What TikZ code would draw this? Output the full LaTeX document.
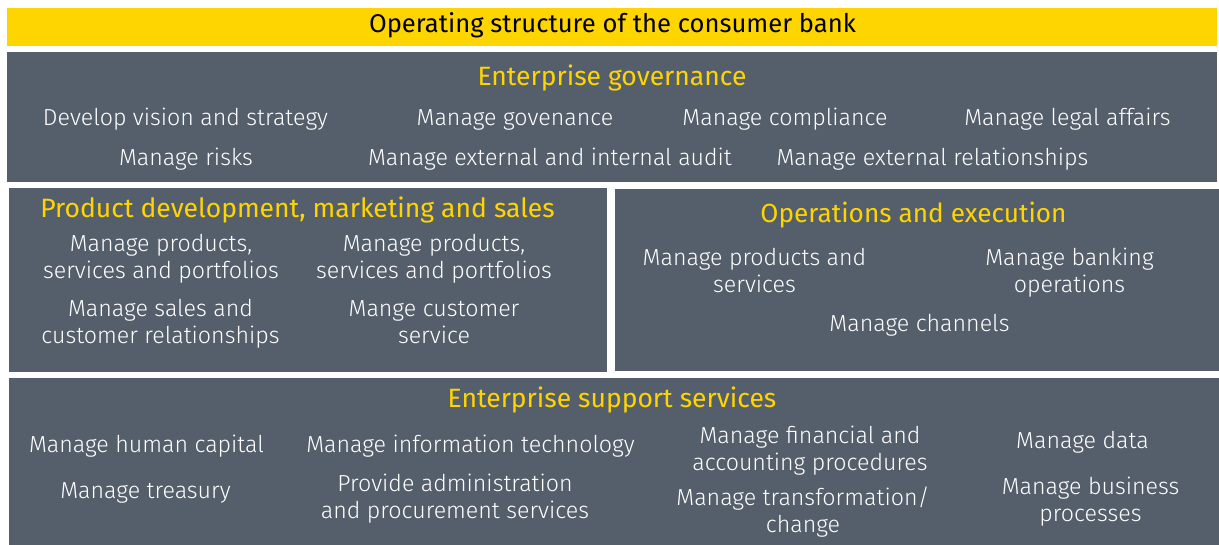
\documentclass[tikz,border=0pt]{standalone}
\usepackage{fontspec}
\setmainfont{Fira Sans Light}
\newfontfamily\regfont{Fira Sans}
\definecolor{eygray}{HTML}{545F6B}
\definecolor{eyyellow}{HTML}{FFD500}
\tikzset{
  panel/.style={fill=eygray, draw=none},
  bar/.style={fill=eyyellow, draw=none},
  hdr/.style={text=eyyellow, anchor=base, inner sep=0pt, font=\regfont\fontsize{26.5}{30}\selectfont},
  bighdr/.style={text=eyyellow, anchor=base, inner sep=0pt, font=\regfont\fontsize{26.2}{30}\selectfont},
  item/.style={text=white, anchor=base, align=center, inner sep=0pt, font=\fontsize{23.2}{27}\selectfont},
  ttl/.style={text=black, anchor=base, inner sep=0pt, font=\regfont\fontsize{25.6}{30}\selectfont}
}
\begin{document}
\begin{tikzpicture}[x=1pt,y=-1pt]
\useasboundingbox (0,0) rectangle (1219,545);
% panels
\fill[bar] (7,8) rectangle (1217,46);
\fill[panel] (7,52) rectangle (1217,182);
\fill[panel] (9,188) rectangle (607,372);
\fill[panel] (615,189) rectangle (1219,371);
\fill[panel] (9,378) rectangle (1219,545);
% title
\node[ttl] (title) at (612.5,33) {Operating structure of the consumer bank};
% governance
\node[hdr] (govh) at (612,86) {Enterprise governance};
\node[item] (g1) at (185.5,126) {Develop vision and strategy};
\node[item] (g2) at (515,126) {Manage govenance};
\node[item] (g3) at (785,126) {Manage compliance};
\node[item] (g4) at (1067.5,126) {Manage legal affairs};
\node[item] (g5) at (186,166) {Manage risks};
\node[item] (g6) at (550,166) {Manage external and internal audit};
\node[item] (g7) at (932.5,166) {Manage external relationships};
% product development
\node[hdr] (pdh) at (297.5,218) {Product development, marketing and sales};
\node[item] (p1) at (161,279) {Manage products,\\services and portfolios};
\node[item] (p2) at (434,279) {Manage products,\\services and portfolios};
\node[item] (p3) at (160.5,344) {Manage sales and\\customer relationships};
\node[item] (p4) at (434,344) {Mange customer\\service};
% operations
\node[bighdr] (oph) at (913.5,223) {Operations and execution};
\node[item] (o1) at (754.5,293) {Manage products and\\services};
\node[item] (o2) at (1069.5,293) {Manage banking\\operations};
\node[item] (o3) at (919.5,332) {Manage channels};
% support
\node[hdr] (sph) at (612,407) {Enterprise support services};
\node[item] (s1) at (146.5,453) {Manage human capital};
\node[item] (s2) at (145.5,498) {Manage treasury};
\node[item] (s3) at (470.5,453) {Manage information technology};
\node[item] (s4) at (455,518) {Provide administration\\and procurement services};
\node[item] (s5) at (810,470) {Manage financial and\\accounting procedures};
\node[item] (s6) at (803,532) {Manage transformation/\\change};
\node[item] (s7) at (1082.5,448) {Manage data};
\node[item] (s8) at (1090.5,521) {Manage business\\processes};
\end{tikzpicture}
\end{document}
